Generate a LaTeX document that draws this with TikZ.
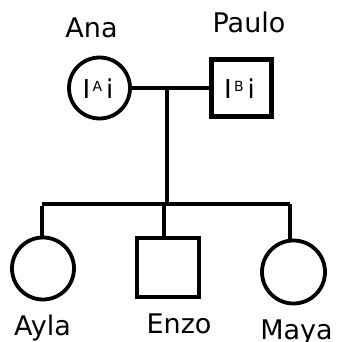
\documentclass[tikz,border=0pt]{standalone}
\usepackage{fontspec}
\setmainfont{DejaVu Sans}
\begin{document}
\begin{tikzpicture}[x=1pt,y=-1pt,
  female/.style={draw,circle,line width=3.8pt,minimum size=61pt,inner sep=0pt},
  male/.style={draw,rectangle,line width=3.8pt,minimum width=61pt,minimum height=58pt,inner sep=0pt},
  namelbl/.style={font=\fontsize{27}{30}\selectfont,inner sep=0pt,anchor=base},
  geno/.style={font=\fontsize{26}{30}\selectfont,inner sep=0pt},
  link/.style={line width=4pt}]
\useasboundingbox (0,0) rectangle (338,342);
\node[female] (ana) at (99.5,88) {};
\node[geno] (anag) at (98,89) {I\raisebox{0.55ex}{\fontsize{14}{16}\selectfont\,A}\hspace{4pt}i};
\node[male,line width=4.6pt,minimum width=60pt,minimum height=57pt] (paulo) at (241.5,88) {};
\node[geno] (paulog) at (239.5,89) {I\raisebox{0.55ex}{\fontsize{14}{16}\selectfont\,B}\hspace{4pt}i};
\node[namelbl] (anal) at (91.5,38) {Ana};
\node[namelbl] (paulol) at (249,33) {Paulo};
\coordinate (m) at (167,88);
\coordinate (s) at (167,206);
\coordinate (sl) at (42,204);
\coordinate (sr) at (290,204);
\coordinate (se) at (164,204);
\draw[link] (ana) -- (paulo);
\draw[link] (m) -- (s);
\draw[link] (sl) -- (sr);
\node[female,minimum size=62pt] (ayla) at (43,268.5) {};
\node[male,minimum width=62pt,minimum height=59pt] (enzo) at (168,267.5) {};
\node[female,minimum size=63pt] (maya) at (293.5,272) {};
\draw[link] ([yshift=-2pt]sl) -- (ayla.north -| sl);
\draw[link] (se) -- (enzo.north -| se);
\draw[link] (sr) -- (maya.north -| sr);
\node[namelbl] (aylal) at (42.5,335) {Ayla};
\node[namelbl] (enzol) at (179,333) {Enzo};
\node[namelbl] (mayal) at (296.5,339) {Maya};
\end{tikzpicture}
\end{document}
